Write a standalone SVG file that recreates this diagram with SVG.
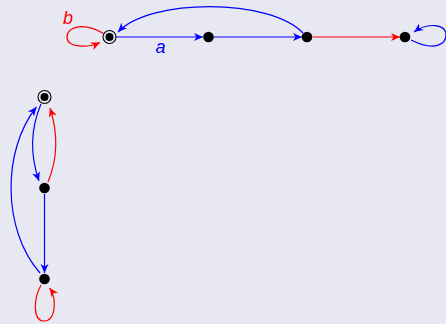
<svg xmlns="http://www.w3.org/2000/svg" width="446" height="324" viewBox="0 0 446 324">
<style>
.e{fill:none;stroke-width:1.2}
.b{stroke:#0000ff}
.r{stroke:#ff0000}
.n{fill:#000}
.ring{fill:none;stroke:#000;stroke-width:1.1}
.lbl{font-family:"Liberation Sans",Arial,sans-serif;font-style:italic;font-size:18px}
</style>
<defs>
<marker id="ab" markerUnits="userSpaceOnUse" markerWidth="12" markerHeight="12" viewBox="-10 -6 12 12" refX="0" refY="0" orient="auto"><path d="M0,0 L-9,-4 L-6.5,0 L-9,4 Z" fill="#0000ff"/></marker>
<marker id="ar" markerUnits="userSpaceOnUse" markerWidth="12" markerHeight="12" viewBox="-10 -6 12 12" refX="0" refY="0" orient="auto"><path d="M0,0 L-9,-4 L-6.5,0 L-9,4 Z" fill="#ff0000"/></marker>
</defs>
<rect width="446" height="324" fill="#e8e8f2"/>
<g id="connectors">
<path class="e r" d="M103.5,33.5 C85,22 67,26 67,37 C67,48 88,48 100,42.5" marker-end="url(#ar)"/>
<path class="e b" d="M116,37 L203,37" marker-end="url(#ab)"/>
<path class="e b" d="M214,37 L302,37" marker-end="url(#ab)"/>
<path class="e b" d="M303,33 C270,-2 150,-2 118,32" marker-end="url(#ab)"/>
<path class="e r" d="M313,37 L400,37" marker-end="url(#ar)"/>
<path class="e b" d="M411,40 C435,52 446,44 446,35 C446,24 428,22 414,32" marker-end="url(#ab)"/>
<path class="e b" d="M41,104 C30,130 30,155 39,181" marker-end="url(#ab)"/>
<path class="e r" d="M48,182 C58,158 58,133 50,108" marker-end="url(#ar)"/>
<path class="e b" d="M44.5,194 L44.5,273" marker-end="url(#ab)"/>
<path class="e b" d="M40,273 C2,230 2,150 36.5,107" marker-end="url(#ab)"/>
<path class="e r" d="M41,285 C33,300 33,321 44,321 C56,321 57,298 49.5,288" marker-end="url(#ar)"/>
</g>
<g id="s0"><circle class="ring" cx="109.5" cy="37" r="6.5"/><circle class="n" cx="109.5" cy="37" r="4"/></g>
<g id="s1"><circle class="n" cx="208.5" cy="37" r="5.3"/></g>
<g id="s2"><circle class="n" cx="307" cy="37" r="5.3"/></g>
<g id="s3"><circle class="n" cx="405" cy="37" r="5.3"/></g>
<g id="t0"><circle class="ring" cx="44.5" cy="97" r="6.5"/><circle class="n" cx="44.5" cy="97" r="4"/></g>
<g id="t1"><circle class="n" cx="44.5" cy="188" r="5.3"/></g>
<g id="t2"><circle class="n" cx="44.5" cy="279" r="5.3"/></g>
<g id="labels">
<text class="lbl" x="63" y="23.5" fill="#ff0000">b</text>
<text class="lbl" x="155.5" y="53" fill="#0000ff">a</text>
</g>
</svg>
